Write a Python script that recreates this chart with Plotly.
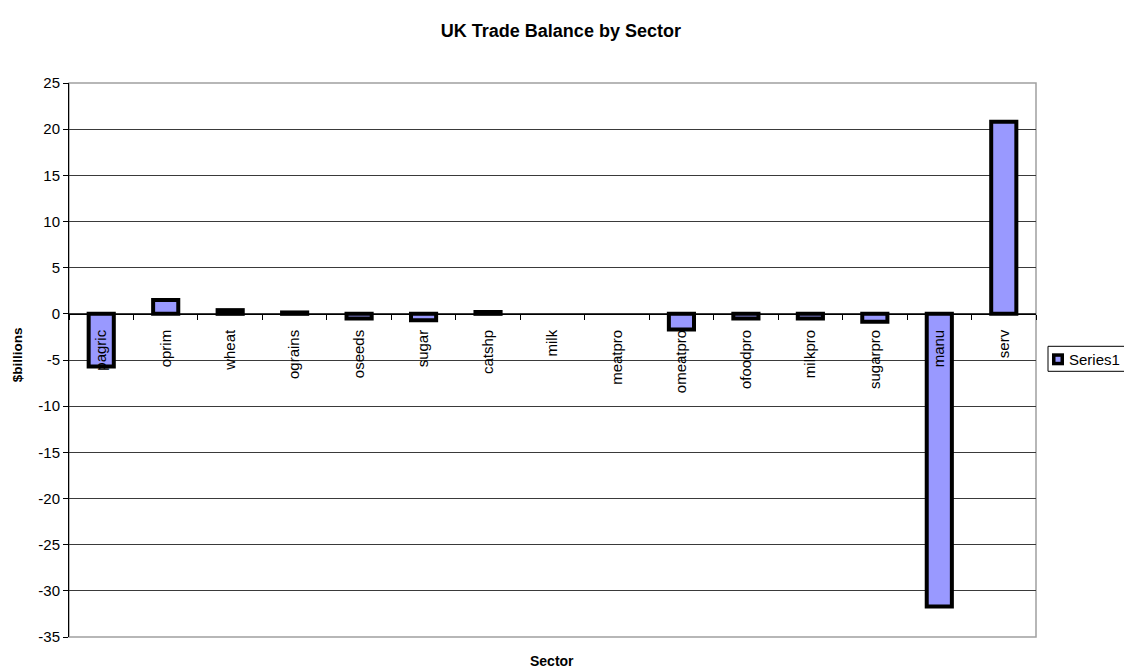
import plotly.graph_objects as go

sectors = ["pagric", "oprim", "wheat", "ograins", "oseeds", "sugar", "catshp", "milk",
           "meatpro", "omeatpro", "ofoodpro", "milkpro", "sugarpro", "manu", "serv"]
balance = [-5.7, 1.5, 0.4, 0.15, -0.5, -0.7, 0.2, 0.0,
           0.0, -1.7, -0.5, -0.5, -0.85, -31.7, 20.8]
series_name = "Series1"
y_ticks = [-35, -30, -25, -20, -15, -10, -5, 0, 5, 10, 15, 20, 25]
y_tick_labels = [str(v) for v in y_ticks]

W, H = 1124, 668
L, R, T, B = 69, 1036, 82.7, 636.7
PW, PH = R - L, B - T

def px(x):
    return (x - L) / PW

def py(y):
    return (B - y) / PH

FONT = "Liberation Sans, Arial, sans-serif"
FILL = "#9999FF"

# zero-valued sectors draw no bar (as in the original chart)
bar_vals = [v if v != 0 else None for v in balance]

fig = go.Figure()
fig.add_trace(go.Bar(
    x=sectors, y=bar_vals, name=series_name,
    marker=dict(color=FILL, line=dict(color="black", width=4)),
    showlegend=False,
))

ymin, ymax = y_ticks[0], y_ticks[-1]
fig.update_layout(
    width=W, height=H,
    margin=dict(l=L, r=W - R, t=T, b=H - B, autoexpand=False),
    paper_bgcolor="white", plot_bgcolor="white",
    bargap=0.61,
    font=dict(family=FONT, size=15, color="black"),
    title=dict(text="<b>UK Trade Balance by Sector</b>", x=0.499, xref="container",
               y=1 - 31 / H, yref="container", xanchor="center", yanchor="middle",
               font=dict(family=FONT, size=18, color="black")),
    xaxis=dict(type="category", range=[-0.5, len(sectors) - 0.5],
               anchor="free", position=(0 - ymin) / (ymax - ymin),
               showline=True, linecolor="black", linewidth=1,
               ticks="outside", ticklen=5, tickcolor="black", tickson="boundaries",
               tickangle=-90, showgrid=False, ticklabelstandoff=9,
               tickfont=dict(family=FONT, size=15, color="black")),
    yaxis=dict(range=[ymin, ymax], tickvals=y_ticks, ticktext=y_tick_labels,
               showline=True, linecolor="black",
               linewidth=1, ticks="outside", ticklen=5, tickcolor="black",
               showgrid=True, gridcolor="#3a3a3a", gridwidth=1, zeroline=False,
               tickfont=dict(family=FONT, size=15, color="black")),
    showlegend=False,
)

shapes = [
    # plot frame
    dict(type="rect", xref="paper", yref="paper", x0=0, x1=1, y0=0, y1=1,
         line=dict(color="#a0a0a0", width=1.5), layer="below"),
    # legend box
    dict(type="rect", xref="paper", yref="paper", x0=px(1048), x1=px(1135),
         y0=py(371), y1=py(346), line=dict(color="black", width=1),
         fillcolor="white", layer="above"),
    # legend symbol
    dict(type="rect", xref="paper", yref="paper", x0=px(1052), x1=px(1064),
         y0=py(365), y1=py(353), line=dict(width=0), fillcolor="black", layer="above"),
    dict(type="rect", xref="paper", yref="paper", x0=px(1055.5), x1=px(1060.5),
         y0=py(361.5), y1=py(356.5), line=dict(width=0), fillcolor=FILL, layer="above"),
]
fig.update_layout(shapes=shapes)

fig.add_annotation(text=series_name, xref="paper", yref="paper", x=px(1067), y=py(359),
                   xanchor="left", yanchor="middle", showarrow=False,
                   font=dict(family=FONT, size=15, color="black"))
fig.add_annotation(text="<b>$billions</b>", xref="paper", yref="paper", x=px(17), y=py(355),
                   xanchor="center", yanchor="middle", textangle=-90, showarrow=False,
                   font=dict(family=FONT, size=13.5, color="black"))
fig.add_annotation(text="<b>Sector</b>", xref="paper", yref="paper", x=px(552), y=py(661),
                   xanchor="center", yanchor="middle", showarrow=False,
                   font=dict(family=FONT, size=14, color="black"))

fig.write_html("out.html")
